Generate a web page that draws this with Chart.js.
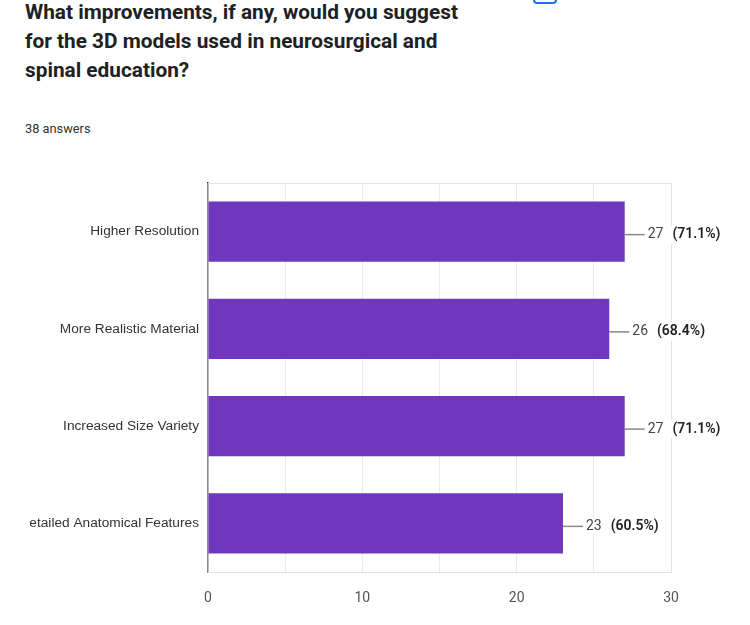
<!DOCTYPE html>
<html>
<head>
<meta charset="utf-8">
<script src="https://cdn.jsdelivr.net/npm/chart.js@4.4.1/dist/chart.umd.min.js"></script>
<style>
  html, body { margin: 0; padding: 0; background: #fff; }
  body { width: 750px; height: 625px; position: relative; overflow: hidden; font-family: Roboto, "Liberation Sans", Arial, sans-serif; }
  #titulo { position: absolute; left: 25px; top: -2px; font-size: 20.8px; font-weight: bold; line-height: 29px; color: #202124; }
  #respuestas { position: absolute; left: 25px; top: 121px; font-size: 12.8px; color: #333; }
  #icono { position: absolute; left: 533px; top: -16px; width: 20px; height: 16px; border: 2.5px solid #1a73e8; border-radius: 4px; }
  #contenedor { position: absolute; left: 30px; top: 150px; width: 720px; height: 475px; }
</style>
</head>
<body>
<div id="titulo">What improvements, if any, would you suggest<br>for the 3D models used in neurosurgical and<br>spinal education?</div>
<div id="icono"></div>
<div id="respuestas">38 answers</div>
<div id="contenedor"><canvas id="grafico"></canvas></div>
<script>
const categorias = ['Higher Resolution', 'More Realistic Material', 'Increased Size Variety', 'Detailed Anatomical Features'];
const respuestas = [27, 26, 27, 23];
const porcentajes = ['(71.1%)', '(68.4%)', '(71.1%)', '(60.5%)'];
const ticksX = [0, 10, 20, 30];

// Etiquetas de valor con linea guia, como en Google Forms
const etiquetasValor = {
    id: 'etiquetasValor',
    beforeDatasetsDraw(chart) {
        const { ctx, chartArea } = chart;
        ctx.save();
        ctx.strokeStyle = '#e3e3e3';
        ctx.lineWidth = 1;
        ctx.strokeRect(chartArea.left, chartArea.top + 0.5, chartArea.right - chartArea.left + 0.5, chartArea.bottom - chartArea.top);
        ctx.restore();
    },
    afterDatasetsDraw(chart) {
        const { ctx } = chart;
        const meta = chart.getDatasetMeta(0);
        ctx.save();
        meta.data.forEach((bar, i) => {
            const x = bar.x;
            const y = bar.y + 3;
            ctx.strokeStyle = '#888';
            ctx.lineWidth = 1.5;
            ctx.beginPath();
            ctx.moveTo(x, y);
            ctx.lineTo(x + 20, y);
            ctx.stroke();

            ctx.font = '14px Roboto, "Liberation Sans", Arial';
            const num = String(respuestas[i]);
            const wNum = ctx.measureText(num).width;
            ctx.font = '600 14px Roboto, "Liberation Sans", Arial';
            const wPct = ctx.measureText(porcentajes[i]).width;
            ctx.fillStyle = '#fff';
            ctx.fillRect(x + 21, y - 9, wNum + wPct + 14, 18);

            ctx.textBaseline = 'middle';
            ctx.textAlign = 'left';
            ctx.fillStyle = '#444';
            ctx.font = '14px Roboto, "Liberation Sans", Arial';
            ctx.fillText(num, x + 23, y);
            ctx.fillStyle = '#222';
            ctx.font = '600 14px Roboto, "Liberation Sans", Arial';
            ctx.fillText(porcentajes[i], x + 23 + wNum + 9, y);
        });
        ctx.restore();
    }
};

const ctx = document.getElementById('grafico').getContext('2d');
new Chart(ctx, {
    type: 'bar',
    data: {
        labels: categorias,
        datasets: [{
            data: respuestas,
            backgroundColor: '#6e37bd',
            borderWidth: 0,
            categoryPercentage: 0.62,
            barPercentage: 1
        }]
    },
    options: {
        indexAxis: 'y',
        responsive: true,
        maintainAspectRatio: false,
        animation: false,
        layout: { padding: { top: 33, right: 79, bottom: 0, left: 0 } },
        plugins: { legend: { display: false }, tooltip: { enabled: false } },
        scales: {
            x: {
                min: 0,
                max: 30,
                ticks: {
                    stepSize: 5,
                    padding: 18,
                    color: '#555',
                    font: { size: 14, family: 'Roboto, "Liberation Sans", Arial' },
                    callback: v => ticksX.includes(v) ? String(v) : ''
                },
                grid: { color: '#ebebeb', drawTicks: false },
                border: { display: false },
                afterFit: s => { s.height = 53; }
            },
            y: {
                ticks: {
                    padding: 9,
                    color: '#333',
                    font: { size: 13.7, family: '"Liberation Sans", Arial' }
                },
                grid: { display: false, drawTicks: false },
                border: { color: '#333', width: 1.5 },
                afterFit: s => { s.width = 178; }
            }
        }
    },
    plugins: [etiquetasValor]
});
</script>
</body>
</html>
